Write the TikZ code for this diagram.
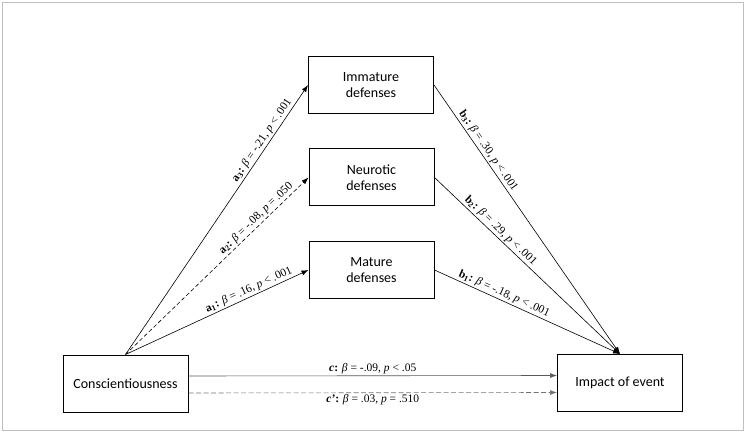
\documentclass[tikz,border=0pt]{standalone}
\usepackage{fontspec}
\setmainfont{Liberation Serif}
\newfontfamily\boxfont{Carlito}
\usetikzlibrary{arrows.meta}

\begin{document}
\begin{tikzpicture}[x=1pt, y=-1pt]
	\tikzset{boite/.style={rectangle, draw=black, line width=1pt, minimum width=125pt, minimum height=57pt, inner sep=0pt, align=center, font=\boxfont\fontsize{14}{16.5}\selectfont},
		fleche/.style={>={Latex[length=7pt,width=5pt]}, ->, line width=0.6pt},
		etiq/.style={font=\fontsize{11.5}{13}\selectfont, inner sep=1.5pt}};
	\useasboundingbox (0,0) rectangle (745,433);
	\draw[black!25, line width=0.8pt] (2,2) rectangle (743,430);

	\node[boite] (cons) at (125.5,383.5) {Conscientiousness};
	\node[boite] (impact) at (620,383) {Impact of event};
	\node[boite] (immature) at (371,85) {Immature\\defenses};
	\node[boite] (neurotic) at (371.5,177.5) {Neurotic\\defenses};
	\node[boite] (mature) at (371.5,270) {Mature\\defenses};

	\draw[fleche] (cons.north) -- node[etiq, sloped, above, pos=0.78] {\textbf{a\textsubscript{3}:} \textit{β} = -.21, \textit{p} < .001}(immature.west);
	\draw[fleche, dash pattern=on 4pt off 2.5pt] (cons.north) -- node[etiq, sloped, above, pos=0.74] {\textbf{a\textsubscript{2}:} \textit{β} = -.08, \textit{p} = .050}(neurotic.west);
	\draw[fleche] (cons.north) -- node[etiq, sloped, above, pos=0.69] {\textbf{a\textsubscript{1}:} \textit{β} = .16, \textit{p} < .001}(mature.west);

	\draw[fleche] (immature.east) -- node[etiq, sloped, above, pos=0.26] {\textbf{b\textsubscript{3}:} \textit{β} = .30, \textit{p} < .001}(impact.north);
	\draw[fleche] (neurotic.east) -- node[etiq, sloped, above, pos=0.33] {\textbf{b\textsubscript{2}:} \textit{β} = .29, \textit{p} < .001}(impact.north);
	\draw[fleche] (mature.east) -- node[etiq, sloped, above, pos=0.36] {\textbf{b\textsubscript{1}:} \textit{β} = -.18, \textit{p} < .001}(impact.north);

	\draw[fleche, black!65] ([yshift=7.5pt]cons.east) -- node[etiq, above, black] {\textbf{\textit{c}:} \textit{β} = -.09, \textit{p} < .05}([yshift=7.5pt]impact.west);
	\draw[fleche, black!55, dash pattern=on 5pt off 2.5pt] ([yshift=-9.5pt]cons.east) -- node[etiq, below, black] {\textbf{\textit{c'}:} \textit{β} = .03, \textit{p} = .510}([yshift=-9.5pt]impact.west);
\end{tikzpicture}
\end{document}
